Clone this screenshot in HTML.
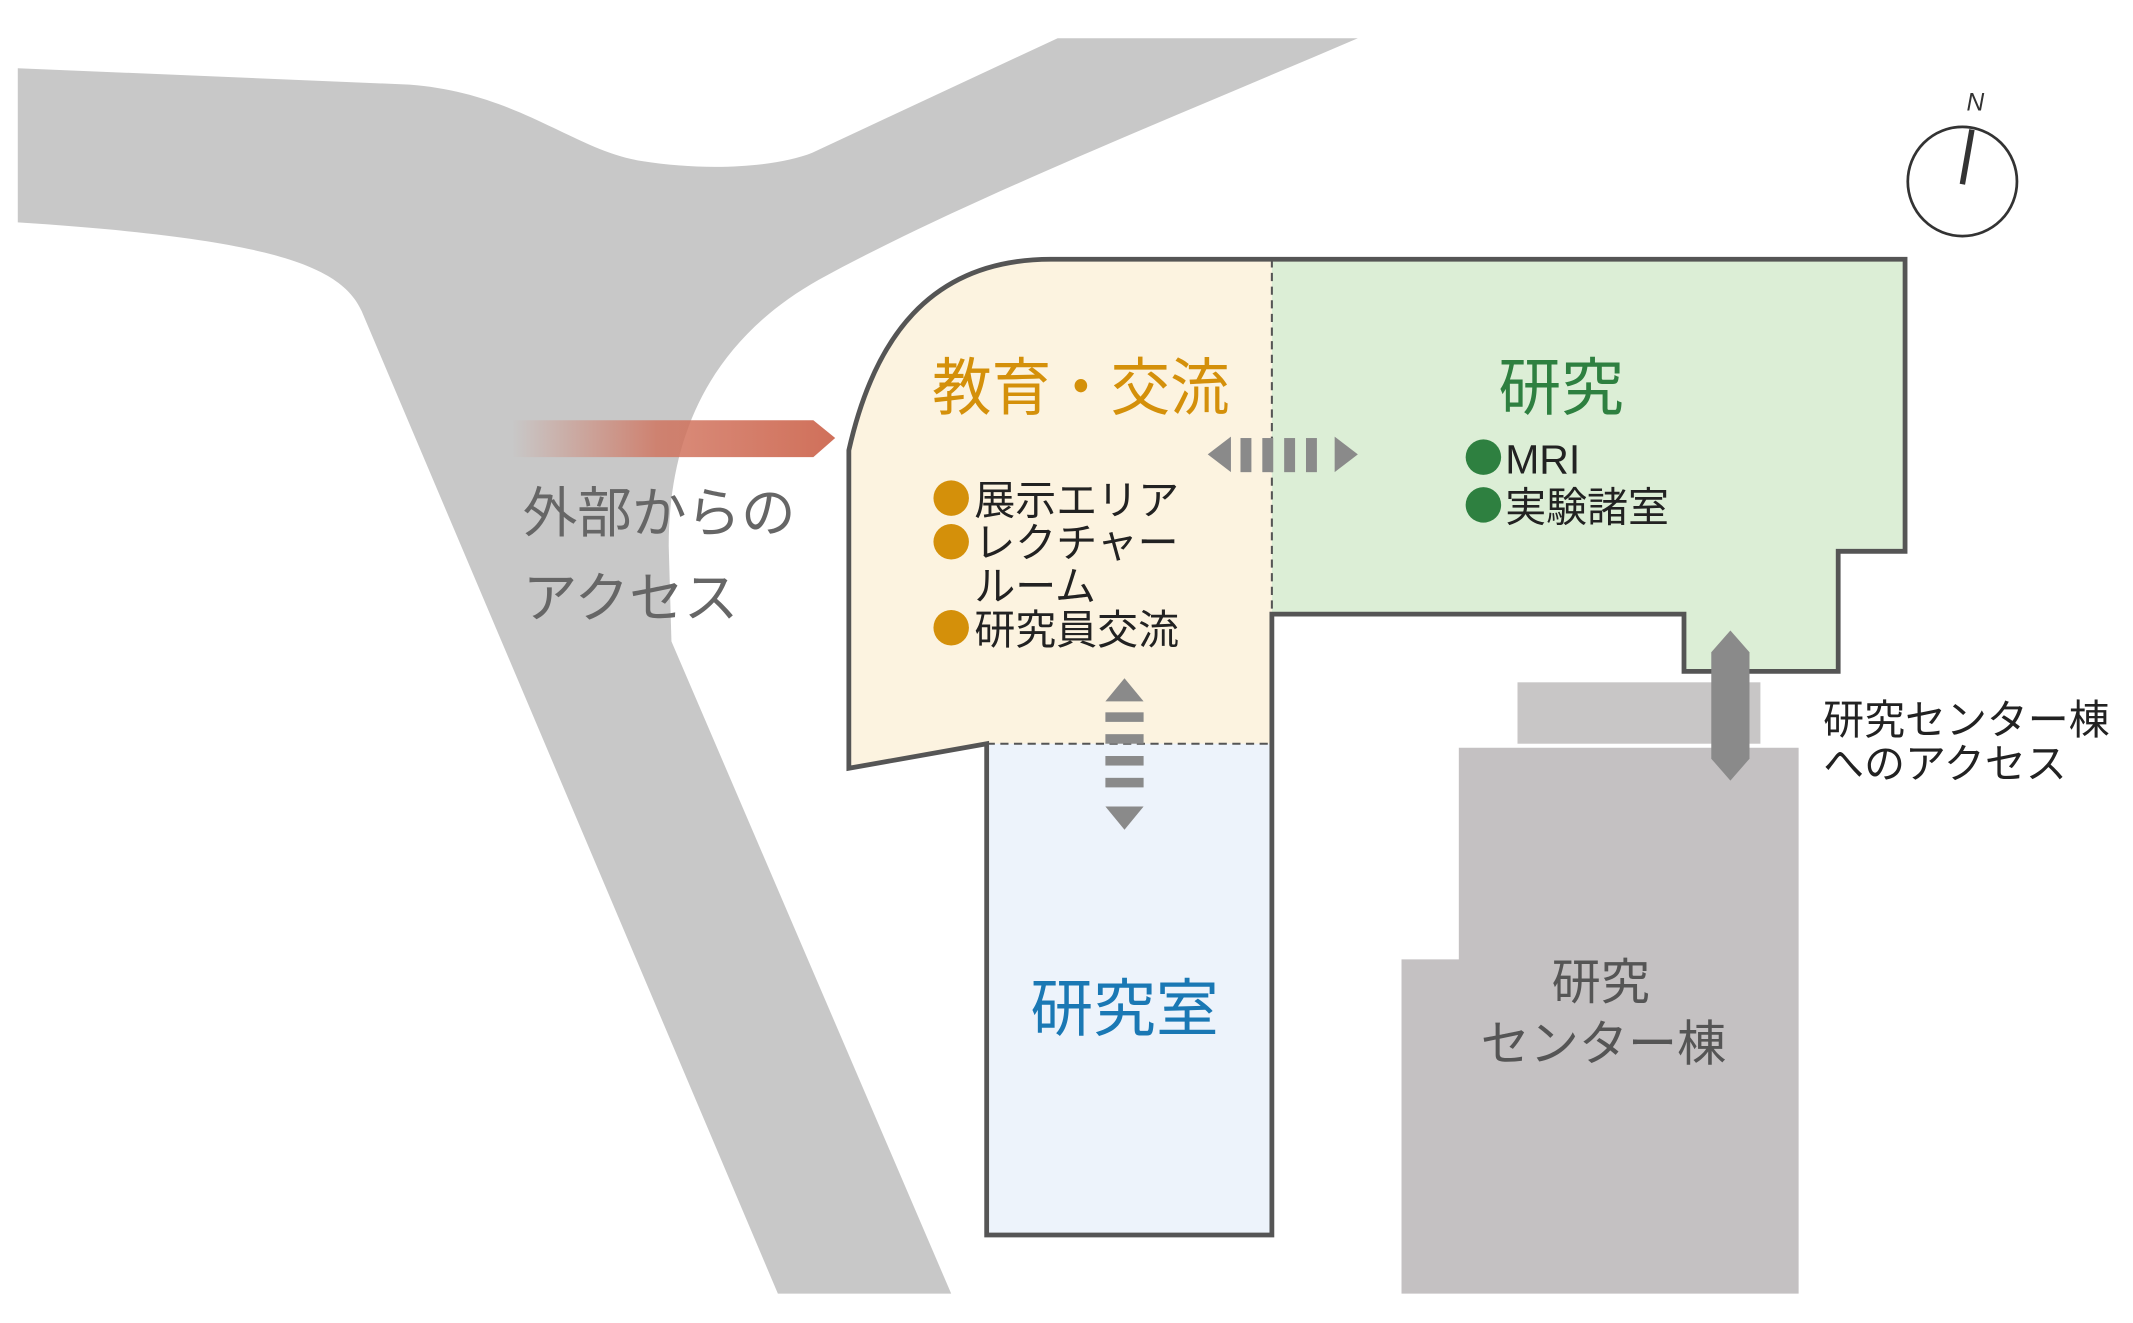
<!DOCTYPE html>
<html><head><meta charset="utf-8"><style>
html,body{margin:0;padding:0;background:#fff;}
svg{display:block;}
text{font-family:"Liberation Sans","Noto Sans CJK JP",sans-serif;}
</style></head><body>
<svg width="2133" height="1323" viewBox="0 0 1563 969.5" xmlns="http://www.w3.org/2000/svg">
<defs>
<linearGradient id="rg" x1="375" y1="0" x2="612" y2="0" gradientUnits="userSpaceOnUse">
<stop offset="0" stop-color="#d0705a" stop-opacity="0"/>
<stop offset="0.45" stop-color="#d0705a" stop-opacity="0.8"/>
<stop offset="1" stop-color="#d0705a"/>
</linearGradient>
</defs>
<rect width="1563" height="970" fill="#fff"/>
<path d="M13,50 L300,62 C380,68 420,110 470,118 C520,126 570,122 595,112 L775,28 L995,28 C850,90 700,150 600,205 C520,250 490,320 490,400 L492,470 L697,948 L570,948 L265,228 C250,195 200,175 13,163 Z" fill="#c8c8c8"/>
<rect x="1112" y="500" width="178" height="45" fill="#c8c6c6"/>
<path d="M1069,548 L1318,548 L1318,948 L1027,948 L1027,703 L1069,703 Z" fill="#c4c1c2"/>
<path d="M622,330 C640,250 680,190 770,190 L932,190 L932,545 L723,545 L622,563 Z" fill="#fcf3e0"/>
<path d="M932,190 L1396,190 L1396,404 L1347,404 L1347,492 L1234,492 L1234,450 L932,450 Z" fill="#dceed6"/>
<rect x="723" y="545" width="209" height="360" fill="#edf3fb"/>
<line x1="932" y1="190" x2="932" y2="450" stroke="#555" stroke-width="1.5" stroke-dasharray="6,4"/>
<line x1="723" y1="545" x2="932" y2="545" stroke="#555" stroke-width="1.5" stroke-dasharray="6,4"/>
<path d="M622,330 C640,250 680,190 770,190 L1396,190 L1396,404 L1347,404 L1347,492 L1234,492 L1234,450 L932,450 L932,905 L723,905 L723,545 L622,563 Z" fill="none" stroke="#555" stroke-width="3.5"/>
<path d="M1268,462 L1282,478 L1282,556 L1268,572 L1254,556 L1254,478 Z" fill="#8a8a8a"/>
<path d="M375,308 L596,308 L612,321 L596,335 L375,335 Z" fill="url(#rg)"/>
<g fill="#8a8a8a">
<path d="M885,333 L902,320 L902,346 Z"/>
<rect x="909" y="321" width="8" height="25"/><rect x="925" y="321" width="8" height="25"/><rect x="941" y="321" width="8" height="25"/><rect x="957" y="321" width="8" height="25"/>
<path d="M995,333 L978,320 L978,346 Z"/>
<path d="M824,497 L810,514 L838,514 Z"/>
<rect x="810" y="522" width="28" height="7"/><rect x="810" y="538" width="28" height="7"/><rect x="810" y="554" width="28" height="7"/><rect x="810" y="570" width="28" height="7"/>
<path d="M824,608 L810,591 L838,591 Z"/>
</g>
<circle cx="1438" cy="133" r="40" fill="none" stroke="#333" stroke-width="2"/>
<line x1="1438" y1="135" x2="1445" y2="95" stroke="#333" stroke-width="4"/>
<text x="1441" y="81" font-size="18" font-style="italic" fill="#333">N</text>
<text x="683" y="300" font-size="46" fill="#d4900a" textLength="218" lengthAdjust="spacingAndGlyphs">教育・交流</text>
<text x="1098" y="300" font-size="46" fill="#2e8040">研究</text>
<text x="755" y="755" font-size="46" fill="#1a78b4">研究室</text>
<g fill="#d4900a"><circle cx="697" cy="365" r="13"/><circle cx="697" cy="397" r="13"/><circle cx="697" cy="460" r="13"/></g>
<g font-size="30" fill="#222">
<text x="714" y="377">展示エリア</text>
<text x="714" y="408">レクチャー</text>
<text x="714" y="440">ルーム</text>
<text x="714" y="472">研究員交流</text>
<text x="1103" y="347">MRI</text>
<text x="1103" y="382">実験諸室</text>
<text x="1336" y="538">研究センター棟</text>
<text x="1336" y="570">へのアクセス</text>
</g>
<g fill="#2e8040"><circle cx="1087" cy="335" r="13"/><circle cx="1087" cy="370" r="13"/></g>
<text x="383" y="390" font-size="40" fill="#666">外部からの</text>
<text x="383" y="452" font-size="40" fill="#666">アクセス</text>
<text x="1137" y="732" font-size="36" fill="#555">研究</text>
<text x="1085" y="777" font-size="36" fill="#555">センター棟</text>
</svg>
</body></html>
